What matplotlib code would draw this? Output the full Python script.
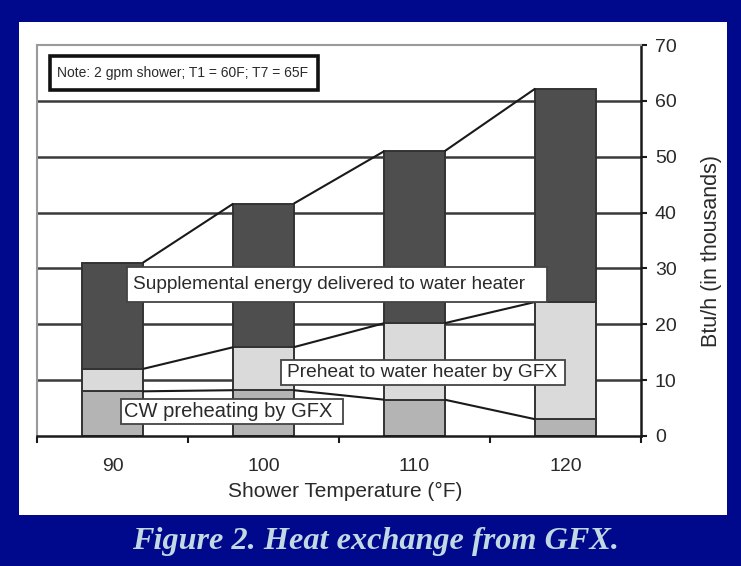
import matplotlib
matplotlib.use('Agg')
import matplotlib.pyplot as plt
from matplotlib.patches import Rectangle
import numpy as np

categories = ['90', '100', '110', '120']
cw_preheat = [8.0, 8.2, 6.5, 3.0]
preheat_wh = [4.0, 7.7, 13.7, 21.0]
supplemental = [19.0, 25.7, 30.8, 38.2]
y_ticks = [0, 10, 20, 30, 40, 50, 60, 70]
series_names = ['CW preheating by GFX', 'Preheat to water heater by GFX',
                'Supplemental energy delivered to water heater']
note_text = 'Note: 2 gpm shower; T1 = 60F; T7 = 65F'

W, H = 741, 566
fig = plt.figure(figsize=(W / 100, H / 100), dpi=100)
fig.patch.set_facecolor('#00088C')
panel = Rectangle((19 / W, 1 - 515 / H), (727 - 19) / W, (515 - 22) / H,
                  transform=fig.transFigure, facecolor='white', edgecolor='none', zorder=-5)
fig.patches.append(panel)

AX_L, AX_R, AX_T, AX_B = 37, 641, 45, 436
ax = fig.add_axes([AX_L / W, 1 - AX_B / H, (AX_R - AX_L) / W, (AX_B - AX_T) / H])
ax.set_zorder(2)
ax.set_facecolor('white')

FONT = 'Liberation Sans'
TXT = '#2a2a2a'

x = np.arange(len(categories))
w = 0.4
cw = np.array(cw_preheat)
ph = np.array(preheat_wh)
sp = np.array(supplemental)
edge = '#333333'
ax.bar(x, cw, w, color='#B4B4B4', edgecolor=edge, linewidth=1.4, zorder=2)
ax.bar(x, ph, w, bottom=cw, color='#DADADA', edgecolor=edge, linewidth=1.4, zorder=2)
ax.bar(x, sp, w, bottom=cw + ph, color='#4E4E4E', edgecolor=edge, linewidth=1.4, zorder=2)

# series lines
for cum in [cw, cw + ph, cw + ph + sp]:
    for i in range(len(categories) - 1):
        ax.plot([x[i] + w / 2, x[i + 1] - w / 2], [cum[i], cum[i + 1]],
                color='#1a1a1a', lw=1.5, zorder=3, solid_capstyle='butt')

for v in y_ticks[1:-1]:
    ax.axhline(v, color='#3a3a3a', lw=1.8, zorder=1)

ax.set_xlim(-0.5, 3.5)
ax.set_ylim(0, 70)

for s in ['top', 'left']:
    ax.spines[s].set_color('#9a9a9a')
    ax.spines[s].set_linewidth(1.5)
for s in ['right', 'bottom']:
    ax.spines[s].set_color('#1a1a1a')
    ax.spines[s].set_linewidth(1.8)

ax.yaxis.tick_right()
ax.set_yticks(y_ticks)
ax.set_yticklabels([str(v) for v in y_ticks], fontsize=14, family=FONT, color=TXT)
ax.tick_params(axis='y', direction='out', length=4, width=1.5, color='#1a1a1a', pad=6)

ax.set_xticks([-0.5, 0.5, 1.5, 2.5, 3.5])
ax.set_xticklabels([])
ax.set_xticks(x, minor=True)
ax.set_xticklabels(categories, minor=True, fontsize=14, family=FONT, color=TXT)
ax.tick_params(axis='x', which='major', direction='out', length=5, width=1.5, color='#1a1a1a')
ax.tick_params(axis='x', which='minor', length=0, pad=16)


def ax_xy(px, py):
    return (px - AX_L) / (AX_R - AX_L), (AX_B - py) / (AX_B - AX_T)


xl_x, xl_y = ax_xy(345, 491)
ax.text(xl_x, xl_y, 'Shower Temperature (°F)', transform=ax.transAxes, ha='center', va='center',
        fontsize=15, family=FONT, color=TXT, clip_on=False)
yl_x, yl_y = ax_xy(711, 251)
ax.text(yl_x, yl_y, 'Btu/h (in thousands)', transform=ax.transAxes, ha='center', va='center',
        rotation=90, fontsize=15.5, family=FONT, color=TXT, clip_on=False)


def box(x0, y0, x1, y1, text, tx, lw, ec, fs):
    ax0, ay1 = ax_xy(x0, y0)
    ax1, ay0 = ax_xy(x1, y1)
    ax.add_patch(Rectangle((ax0, ay0), ax1 - ax0, ay1 - ay0, transform=ax.transAxes,
                           facecolor='white', edgecolor=ec, lw=lw, zorder=5, clip_on=False))
    txx, _ = ax_xy(tx, 0)
    ax.text(txx, (ay0 + ay1) / 2, text, transform=ax.transAxes, ha='left', va='center',
            fontsize=fs, family=FONT, color=TXT, zorder=6)


box(50, 56, 318, 90, note_text, 57, 2.6, '#111111', 10)
box(127, 267, 547, 302, series_names[2], 133, 1.3, '#444444', 13.7)
box(281, 360, 565, 385, series_names[1], 287, 1.3, '#444444', 13.8)
box(121, 399, 343, 424, series_names[0], 124, 1.3, '#444444', 14.5)

fig.text(375.5 / W, 1 - 541 / H, 'Figure 2. Heat exchange from GFX.', family='Liberation Serif',
         weight='bold', style='italic', fontsize=23.2, color='#C2D8E2', ha='center', va='center')

fig.savefig('out.png', dpi=100, facecolor=fig.get_facecolor())
